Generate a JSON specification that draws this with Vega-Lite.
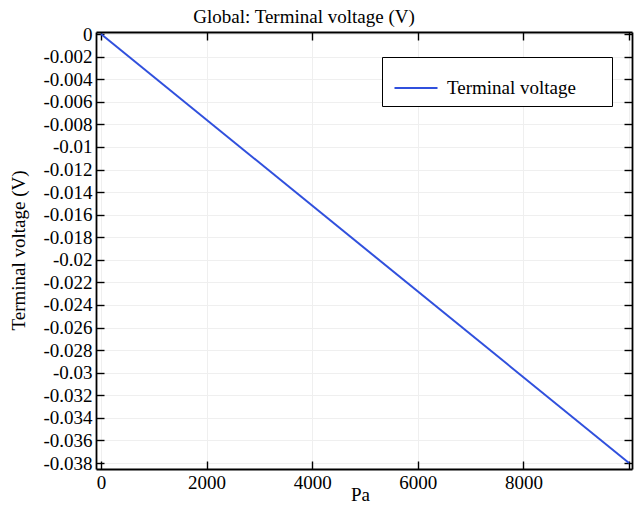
{
  "$schema": "https://vega.github.io/schema/vega-lite/v6.json",
  "width": 536,
  "height": 437,
  "autosize": {"type": "none"},
  "padding": {"left": 96, "top": 32, "right": 6, "bottom": 38},
  "background": "white",
  "title": {
    "text": "Global: Terminal voltage (V)",
    "anchor": "middle",
    "dx": -60,
    "offset": -17,
    "baseline": "alphabetic",
    "font": "Liberation Serif",
    "fontSize": 19,
    "fontWeight": "normal",
    "color": "black"
  },
  "data": {
    "values": [
      {"pressure": 0, "voltage": 0, "series": "Terminal voltage"},
      {"pressure": 10000, "voltage": -0.038, "series": "Terminal voltage"}
    ]
  },
  "config": {
    "view": {"stroke": null},
    "font": "Liberation Serif",
    "axis": {
      "domainColor": "black",
      "domainWidth": 1.8,
      "tickColor": "black",
      "tickWidth": 1.4,
      "tickSize": -8,
      "labelFont": "Liberation Serif",
      "labelFontSize": 19,
      "labelColor": "black",
      "titleFont": "Liberation Serif",
      "titleFontSize": 19,
      "titleFontWeight": "normal",
      "titleColor": "black",
      "gridColor": "#efefef",
      "gridWidth": 1
    }
  },
  "layer": [
    {
      "mark": {"type": "line", "strokeWidth": 2},
      "encoding": {
        "x": {
          "field": "pressure",
          "type": "quantitative",
          "scale": {"domain": [-95, 10057], "nice": false, "zero": false},
          "axis": {
            "orient": "bottom",
            "values": [0, 2000, 4000, 6000, 8000, 10000],
            "labelExpr": "datum.value == 10000 ? '' : '' + datum.value",
            "labelPadding": 12,
            "grid": true,
            "title": "Pa",
            "titleX": 264,
            "titleY": 16
          }
        },
        "y": {
          "field": "voltage",
          "type": "quantitative",
          "scale": {"domain": [-0.03853, 0.00018], "nice": false, "zero": false},
          "axis": {
            "orient": "left",
            "values": [0, -0.002, -0.004, -0.006, -0.008, -0.01, -0.012, -0.014, -0.016, -0.018, -0.02, -0.022, -0.024, -0.026, -0.028, -0.03, -0.032, -0.034, -0.036, -0.038],
            "labelExpr": "'' + datum.value",
            "labelPadding": 12,
            "grid": true,
            "title": "Terminal voltage (V)",
            "titleX": -68,
            "titleY": 218
          }
        },
        "color": {
          "field": "series",
          "type": "nominal",
          "scale": {"range": ["#3050dd"]},
          "legend": {
            "title": null,
            "orient": "none",
            "legendX": 286,
            "legendY": 25,
            "padding": 8,
            "symbolOffset": 3,
            "strokeColor": "black",
            "fillColor": "white",
            "symbolType": "stroke",
            "symbolSize": 1850,
            "symbolStrokeWidth": 2,
            "labelOffset": 8,
            "labelFont": "Liberation Serif",
            "labelFontSize": 19,
            "labelColor": "black",
            "labelExpr": "datum.label + '\u2800\u2800'"
          }
        }
      }
    },
    {
      "mark": {"type": "line", "opacity": 0},
      "encoding": {
        "x": {
          "field": "pressure",
          "type": "quantitative",
          "axis": {
            "orient": "top",
            "values": [0, 2000, 4000, 6000, 8000, 10000],
            "labels": false,
            "grid": false,
            "title": null
          }
        },
        "y": {
          "field": "voltage",
          "type": "quantitative",
          "axis": {
            "orient": "right",
            "values": [0, -0.002, -0.004, -0.006, -0.008, -0.01, -0.012, -0.014, -0.016, -0.018, -0.02, -0.022, -0.024, -0.026, -0.028, -0.03, -0.032, -0.034, -0.036, -0.038],
            "labels": false,
            "grid": false,
            "title": null
          }
        }
      }
    }
  ],
  "resolve": {"axis": {"x": "independent", "y": "independent"}}
}
